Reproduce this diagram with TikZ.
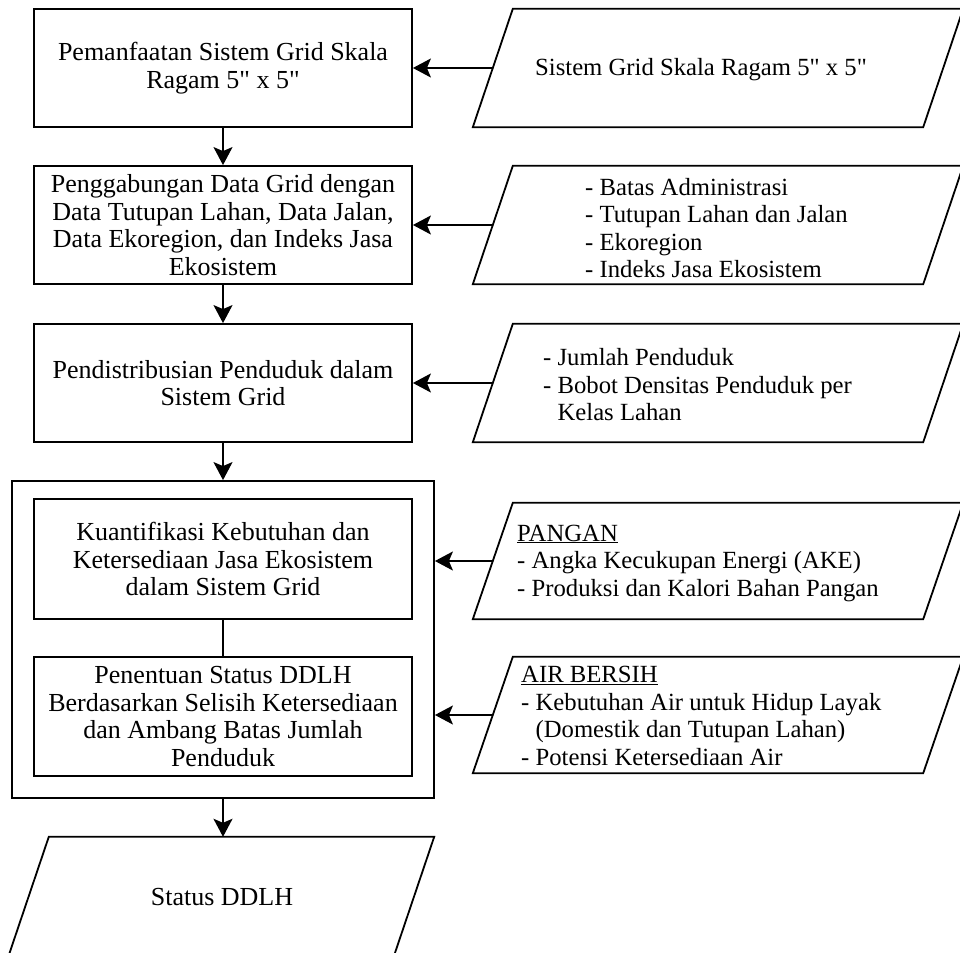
\documentclass[tikz,border=0pt]{standalone}
\usepackage{fontspec}
\setmainfont{Liberation Serif}[Ligatures=TeXOff]
\usetikzlibrary{arrows.meta}
\newcommand\paraoutline[1]{%
  \draw[line width=1.8pt, line join=miter] ([xshift=40pt]#1.north west) -- (#1.north east) -- ([xshift=-40pt]#1.south east) -- (#1.south west) -- cycle;}
\begin{document}
\begin{tikzpicture}[x=1pt,y=-1pt,
  procbox/.style={draw, line width=1.8pt, minimum width=378pt, minimum height=118pt, align=center, inner sep=0pt, font=\fontsize{26}{27.5}\selectfont},
  parabox/.style={minimum width=490pt, minimum height=118pt, inner sep=0pt},
  rtext/.style={align=left, inner sep=0pt, anchor=west, font=\fontsize{24.7}{27.5}\selectfont},
  arr/.style={line width=1.8pt, -{Stealth[length=18pt,width=19pt,inset=4pt]}},
  conn/.style={line width=1.8pt}]
\useasboundingbox (0,0) rectangle (960,952);
\clip (0,0) rectangle (960,952);
% left column
\node[procbox] (b1) at (223,68) {Pemanfaatan Sistem Grid Skala\\Ragam 5" x 5"};
\node[procbox] (b2) at (223,225) {Penggabungan Data Grid dengan\\Data Tutupan Lahan, Data Jalan,\\Data Ekoregion, dan Indeks Jasa\\Ekosistem};
\node[procbox] (b3) at (223,383) {Pendistribusian Penduduk dalam\\Sistem Grid};
\node[draw, line width=1.8pt, minimum width=422pt, minimum height=317pt, inner sep=0pt] (outer) at (223,639.5) {};
\node[procbox, minimum height=120pt] (b4) at (223,559) {Kuantifikasi Kebutuhan dan\\Ketersediaan Jasa Ekosistem\\dalam Sistem Grid};
\node[procbox, minimum height=119pt] (b5) at (223,716.5) {Penentuan Status DDLH\\Berdasarkan Selisih Ketersediaan\\dan Ambang Batas Jumlah\\Penduduk};
\node[parabox, minimum width=425pt] (st) at (221.5,896) {};
\paraoutline{st}
\node[font=\fontsize{26}{27.5}\selectfont, inner sep=0pt] (stt) at (222,897) {Status DDLH};
% right column
\node[parabox] (p1) at (718,68) {};
\node[parabox] (p2) at (718,225) {};
\node[parabox] (p3) at (718,383) {};
\node[parabox, minimum height=116pt] (p4) at (718,561) {};
\node[parabox, minimum height=116pt] (p5) at (718,715) {};
\paraoutline{p1}\paraoutline{p2}\paraoutline{p3}\paraoutline{p4}\paraoutline{p5}
\node[inner sep=0pt, font=\fontsize{24.7}{27.5}\selectfont] (t1) at (701,70) {Sistem Grid Skala Ragam 5" x 5"};
\node[rtext] (t2) at (585,228) {- Batas Administrasi\\- Tutupan Lahan dan Jalan\\- Ekoregion\\- Indeks Jasa Ekosistem};
\node[rtext] (t3) at (543,385) {- Jumlah Penduduk\\- Bobot Densitas Penduduk per\\\phantom{- }Kelas Lahan};
\node[rtext] (t4) at (517,563) {\underline{PANGAN}\\- Angka Kecukupan Energi (AKE)\\- Produksi dan Kalori Bahan Pangan};
\node[rtext] (t5) at (521,716) {\underline{AIR BERSIH}\\- Kebutuhan Air untuk Hidup Layak\\\phantom{- }(Domestik dan Tutupan Lahan)\\- Potensi Ketersediaan Air};
% connectors
\draw[arr] (b1) -- (b2);
\draw[arr] (b2) -- (b3);
\draw[arr] (b3) -- (outer);
\draw[conn] (b4) -- (b5);
\draw[arr] (outer.south) -- (st.north -| outer.south);
\draw[arr] ([xshift=20pt]p1.west) -- (b1.east);
\draw[arr] ([xshift=20pt]p2.west) -- (b2.east);
\draw[arr] ([xshift=20pt]p3.west) -- (b3.east);
\draw[arr] ([xshift=20pt]p4.west) -- (p4.west -| outer.east);
\draw[arr] ([xshift=20pt]p5.west) -- (p5.west -| outer.east);
\end{tikzpicture}
\end{document}
